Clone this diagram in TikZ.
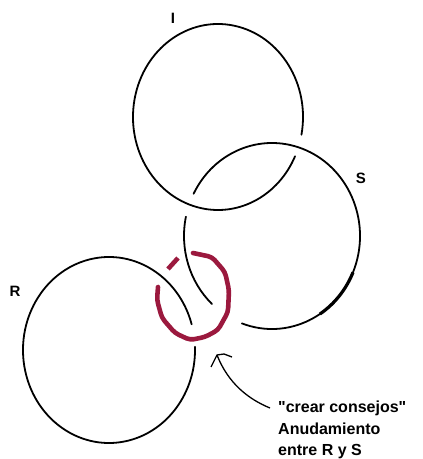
\documentclass[tikz,border=0pt]{standalone}
\usepackage{fontspec}
\newfontfamily\plainsans{Liberation Sans}
\definecolor{knotred}{RGB}{155,25,62}
\begin{document}
\begin{tikzpicture}[x=1pt,y=1pt,
  ring/.style={line width=1.8pt, black, line cap=round},
  hilite/.style={line width=4.6pt, knotred, rounded corners=4pt, line cap=round},
  lbl/.style={font=\plainsans\fontsize{15}{18}\selectfont\bfseries, inner sep=0pt},
  note/.style={font=\plainsans\fontsize{16}{21.5}\selectfont\bfseries, align=left, inner sep=0pt, anchor=north west}]
\useasboundingbox (0,0) rectangle (423,459);
% centres
\coordinate (cI) at (218,342);
\coordinate (cS) at (272,223);
\coordinate (cR) at (109,109);
% ring I (passes under S on the right)
\draw[ring] ([shift={(-11:85 and 93)}]cI) arc[start angle=-11, end angle=335, x radius=85, y radius=93];
% ring S
\draw[ring] ([shift={(-110:88 and 93)}]cS) arc[start angle=-110, end angle=153, x radius=88, y radius=93];
\draw[ring] ([shift={(168:88 and 93)}]cS) arc[start angle=168, end angle=227, x radius=88, y radius=93];
\draw[line width=3.2pt] ([shift={(-57:88 and 93)}]cS) arc[start angle=-57, end angle=-23, x radius=88, y radius=93];
% ring R
\draw[ring] ([shift={(16:86 and 93)}]cR) arc[start angle=16, end angle=362, x radius=86, y radius=93];
% red highlight
\draw[hilite] (193,206) -- (212,202) -- (225,187) -- (229,169) -- (228,147) -- (218,129)
  -- (205,122) -- (190,119) -- (175,126) -- (162,141) -- (157,159) -- (158,172);
\draw[hilite, line cap=butt] (168,190) -- (178,201);
% labels
\node[lbl] (labI) at (173,441) {I};
\node[lbl] (labS) at (361,281) {S};
\node[lbl] (labR) at (15,168) {R};
% note and arrow
\node[note] (txt) at (278,58) {"crear consejos"\\Anudamiento\\entre R y S};
\coordinate (tail) at (270,51);
\coordinate (tip) at (217,104);
\draw[line width=1.3pt, line join=round] (tail) .. controls (248,60) and (228,76) .. (tip);
\draw[line width=1.3pt, line join=round] (211,92) -- (tip) -- (224,105) -- (232,102);
\end{tikzpicture}
\end{document}
